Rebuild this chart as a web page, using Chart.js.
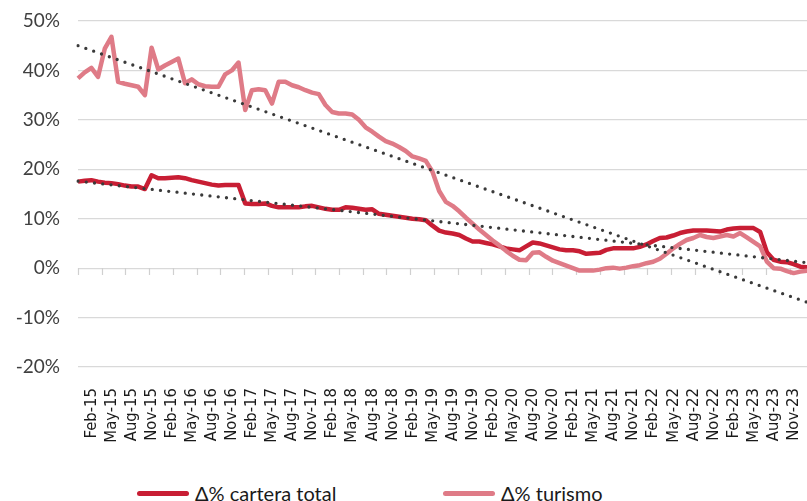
<!DOCTYPE html>
<html>
<head>
<meta charset="utf-8">
<script src="https://cdn.jsdelivr.net/npm/chart.js@4"></script>
<style>
  html, body { margin: 0; padding: 0; background: #fff; overflow: hidden; }
  #wrap { position: relative; width: 807px; height: 501px; overflow: hidden; }
  #legend { position: absolute; top: 483px; left: 0; width: 807px; height: 24px; }
  .item { position: absolute; display: flex; align-items: center; height: 21px;
          font: 20px/21px Lato, "Open Sans", sans-serif; color: #1a1a1a; white-space: nowrap; }
  .swatch { width: 52px; height: 5px; border-radius: 3px; margin-right: 6px; }
</style>
</head>
<body>
<div id="wrap">
  <canvas id="chart" width="807" height="451"></canvas>
  <div id="legend"></div>
</div>
<script>
const categories = [
  "Dec-14",
  "Jan-15","Feb-15","Mar-15","Apr-15","May-15","Jun-15","Jul-15","Aug-15","Sep-15","Oct-15","Nov-15","Dec-15",
  "Jan-16","Feb-16","Mar-16","Apr-16","May-16","Jun-16","Jul-16","Aug-16","Sep-16","Oct-16","Nov-16","Dec-16",
  "Jan-17","Feb-17","Mar-17","Apr-17","May-17","Jun-17","Jul-17","Aug-17","Sep-17","Oct-17","Nov-17","Dec-17",
  "Jan-18","Feb-18","Mar-18","Apr-18","May-18","Jun-18","Jul-18","Aug-18","Sep-18","Oct-18","Nov-18","Dec-18",
  "Jan-19","Feb-19","Mar-19","Apr-19","May-19","Jun-19","Jul-19","Aug-19","Sep-19","Oct-19","Nov-19","Dec-19",
  "Jan-20","Feb-20","Mar-20","Apr-20","May-20","Jun-20","Jul-20","Aug-20","Sep-20","Oct-20","Nov-20","Dec-20",
  "Jan-21","Feb-21","Mar-21","Apr-21","May-21","Jun-21","Jul-21","Aug-21","Sep-21","Oct-21","Nov-21","Dec-21",
  "Jan-22","Feb-22","Mar-22","Apr-22","May-22","Jun-22","Jul-22","Aug-22","Sep-22","Oct-22","Nov-22","Dec-22",
  "Jan-23","Feb-23","Mar-23","Apr-23","May-23","Jun-23","Jul-23","Aug-23","Sep-23","Oct-23","Nov-23","Dec-23",
  "Jan-24"
];

// % change, cartera total
const carteraTotal = [
  17.5,
  17.7, 17.8, 17.5, 17.3, 17.2, 17.0, 16.7, 16.5, 16.5, 16.0, 18.8, 18.2,
  18.2, 18.3, 18.4, 18.2, 17.8, 17.5, 17.2, 16.9, 16.7, 16.8, 16.8, 16.8,
  13.1, 13.0, 13.0, 13.1, 12.6, 12.3, 12.3, 12.3, 12.3, 12.5, 12.6, 12.3,
  12.0, 11.8, 11.8, 12.3, 12.2, 12.0, 11.8, 11.9, 11.0, 10.8, 10.6, 10.4,
  10.2, 10.0, 9.9, 9.7, 8.6, 7.6, 7.2, 7.0, 6.7, 6.0, 5.4, 5.4,
  5.1, 4.8, 4.4, 4.0, 3.8, 3.6, 4.4, 5.2, 5.0, 4.6, 4.2, 3.8,
  3.6, 3.6, 3.4, 2.9, 3.0, 3.1, 3.7, 4.0, 4.0, 4.0, 4.0, 4.3,
  4.8, 5.5, 6.1, 6.2, 6.6, 7.1, 7.4, 7.6, 7.6, 7.6, 7.5, 7.4,
  7.8, 8.0, 8.1, 8.1, 8.1, 7.3, 3.2, 1.7, 1.3, 1.2, 0.8, 0.3,
  0.2
];

// % change, turismo
const turismo = [
  38.4,
  39.6, 40.5, 38.7, 44.4, 46.8, 37.7, 37.3, 37.0, 36.7, 35.0, 44.6, 40.2,
  41.0, 41.7, 42.4, 37.4, 38.2, 37.2, 36.8, 36.7, 36.7, 39.2, 40.0, 41.6,
  32.0, 36.0, 36.2, 36.0, 33.3, 37.7, 37.7, 37.0, 36.6, 36.0, 35.5, 35.2,
  33.0, 31.6, 31.3, 31.3, 31.1, 30.0, 28.5, 27.6, 26.6, 25.7, 25.2, 24.5,
  23.7, 22.6, 22.2, 21.7, 19.5, 15.6, 13.4, 12.6, 11.5, 10.2, 9.0, 7.8,
  6.7, 5.6, 4.6, 3.5, 2.5, 1.7, 1.6, 3.1, 3.2, 2.3, 1.5, 1.0,
  0.5, 0.0, -0.5, -0.5, -0.5, -0.3, 0.0, 0.1, -0.1, 0.1, 0.4, 0.6,
  1.0, 1.3, 1.9, 2.9, 4.0, 4.9, 5.7, 6.1, 6.7, 6.3, 6.1, 6.4,
  6.7, 6.4, 7.1, 6.2, 5.3, 4.4, 1.3, 0.0, -0.1, -0.6, -1.0, -0.7,
  -0.5
];

// linear trend lines, value at first and last month
const trendCartera = [17.6, 1.1];
const trendTurismo = [45.0, -6.9];

const yTicks = [-20, -10, 0, 10, 20, 30, 40, 50];

// spacing (in months) of the small tick marks under the 0% line
const tickEvery = 3.547;

const first = categories[0];
const last = categories[categories.length - 1];

const trendStyle = {
  borderColor: "#3a3a3a",
  borderWidth: 3.3,
  borderDash: [0, 8.3],
  borderCapStyle: "round",
  pointRadius: 0,
  fill: false,
  order: 0,
  isTrend: true,
};

// short grey tick marks hanging below the 0% line
const zeroTicks = {
  id: "zeroTicks",
  beforeDatasetsDraw(chart) {
    const xs = chart.scales.x;
    const y0 = Math.round(chart.scales.y.getPixelForValue(0));
    const c = chart.ctx;
    c.save();
    c.strokeStyle = "#d0d0d0";
    c.lineWidth = 1.2;
    c.beginPath();
    for (let m = 0; m <= categories.length - 1; m += tickEvery) {
      const x = Math.round(xs.getPixelForValue(m)) + 0.5;
      c.moveTo(x, y0);
      c.lineTo(x, y0 + 7);
    }
    c.stroke();
    c.restore();
  },
};

const ctx = document.getElementById("chart");
const chart = new Chart(ctx, {
  type: "line",
  data: {
    labels: categories,
    datasets: [
      {
        ...trendStyle,
        label: "Tendencia cartera",
        data: [{ x: first, y: trendCartera[0] }, { x: last, y: trendCartera[1] }],
      },
      {
        ...trendStyle,
        label: "Tendencia turismo",
        data: [{ x: first, y: trendTurismo[0] }, { x: last, y: trendTurismo[1] }],
      },
      {
        label: "\u0394% turismo",
        data: turismo,
        borderColor: "#DF7B87",
        backgroundColor: "#DF7B87",
        borderWidth: 4.5,
        borderJoinStyle: "round",
        pointRadius: 0,
        order: 1,
      },
      {
        label: "\u0394% cartera total",
        data: carteraTotal,
        borderColor: "#C81E34",
        backgroundColor: "#C81E34",
        borderWidth: 4.5,
        borderJoinStyle: "round",
        pointRadius: 0,
        order: 2,
      },
    ],
  },
  options: {
    responsive: false,
    animation: false,
    layout: { padding: { top: 21, left: 0, right: 0, bottom: 0 } },
    plugins: {
      legend: { display: false },
      tooltip: { enabled: false },
    },
    scales: {
      x: {
        ticks: {
          autoSkip: false,
          minRotation: 90,
          maxRotation: 90,
          padding: 21,
          color: "#1a1a1a",
          font: { family: "'Liberation Sans Narrow', 'DejaVu Sans Condensed', Roboto, sans-serif", size: 16.5 },
          callback: (v, i) => (i % 3 === 2 ? categories[i] : ""),
        },
        grid: { display: false, drawTicks: false },
        border: { display: false },
        afterFit: (s) => {
          s.height = 84;
          s.paddingLeft = 0;
          s.paddingRight = 0;
        },
      },
      y: {
        min: yTicks[0],
        max: yTicks[yTicks.length - 1],
        afterBuildTicks: (s) => {
          s.ticks = yTicks.map((v) => ({ value: v }));
        },
        ticks: {
          padding: 18,
          color: "#404040",
          font: { family: "Lato, 'Open Sans', sans-serif", size: 19 },
          callback: (v) => v + "%",
        },
        grid: { color: "#d9d9d9", lineWidth: 1.2, drawTicks: false },
        border: { display: false },
        afterFit: (s) => {
          s.width = 78;
          s.paddingTop = 0;
          s.paddingBottom = 0;
        },
      },
    },
  },
  plugins: [zeroTicks],
});

// legend for the two series (trend lines are not listed)
const legendLeft = [137, 443];
const legendBox = document.getElementById("legend");
chart.data.datasets
  .filter((d) => !d.isTrend)
  .sort((a, b) => b.order - a.order)
  .forEach((d, k) => {
    const item = document.createElement("div");
    item.className = "item";
    item.style.left = legendLeft[k] + "px";
    const sw = document.createElement("span");
    sw.className = "swatch";
    sw.style.background = d.borderColor;
    const tx = document.createElement("span");
    tx.textContent = d.label;
    item.appendChild(sw);
    item.appendChild(tx);
    legendBox.appendChild(item);
  });
</script>
</body>
</html>
